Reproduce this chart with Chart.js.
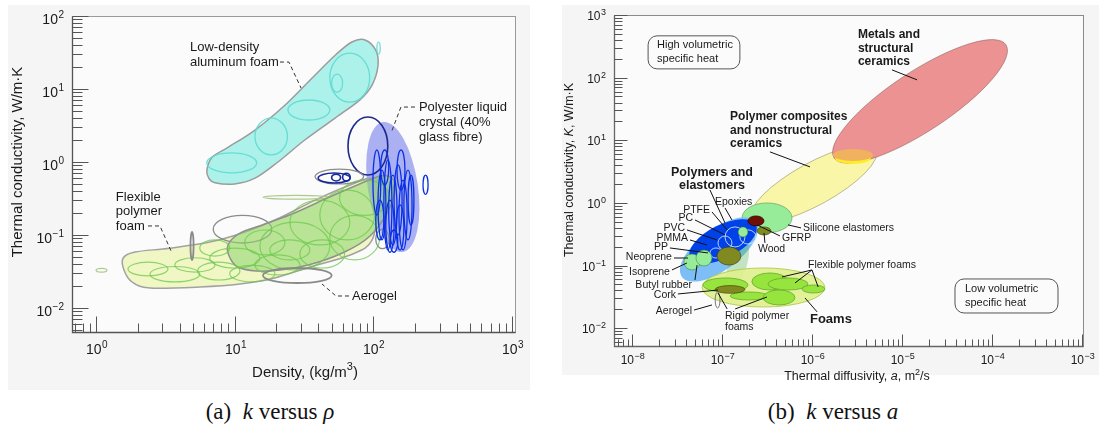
<!DOCTYPE html>
<html>
<head>
<meta charset="utf-8">
<script src="https://cdn.jsdelivr.net/npm/chart.js@4/dist/chart.umd.min.js"></script>
<style>
  body { margin:0; width:1099px; height:434px; background:#fff; position:relative; overflow:hidden; }
  .panel { position:absolute; background:#f5f5f5; }
  canvas { position:absolute; }
  .cap { position:absolute; font-family:"Liberation Serif", serif; font-size:23px; line-height:26px; color:#111; white-space:nowrap; transform:translateX(-50%); }
</style>
</head>
<body>
<div class="panel" style="left:8px;top:5px;width:522px;height:385px"></div>
<div class="panel" style="left:562px;top:5px;width:537px;height:370px"></div>
<canvas id="rhoChart" width="522" height="385" style="left:8px;top:5px"></canvas>
<canvas id="diffChart" width="537" height="390" style="left:562px;top:5px"></canvas>
<div class="cap" style="left:270px;top:399px">(a)&nbsp; <i>k</i> versus <i>ρ</i></div>
<div class="cap" style="left:833px;top:399px">(b)&nbsp; <i>k</i> versus <i>a</i></div>

<script>
// ---------- (a) thermal conductivity vs density ----------
const densityRange = [0.671, 1050];          // kg/m3
const conductivityRangeA = [0.00469, 100];   // W/m.K

// envelope outlines: [density, conductivity]
const alFoamBand = [[6.3,0.78],[6.9,1.17],[9.0,1.6],[14,2.74],[23,6.0],[35,13.3],[53,29],[70,44],[87,47],
  [104,34],[108,21],[98,11.4],[80,7.1],[53,4.0],[32,2.0],[20.5,1.0],[14,0.6],[10,0.5],[7.2,0.52],[6.5,0.6]];
const flexFoamBand = [[1.57,0.0484],[1.91,0.0585],[3.4,0.066],[6.6,0.080],[11.9,0.110],[21,0.171],[38,0.301],
  [68,0.484],[103,0.60],[108,0.301],[98,0.0855],[68,0.0532],[35,0.0365],[19.5,0.0258],[10.9,0.0213],
  [5.6,0.0194],[2.45,0.0188],[1.82,0.0227],[1.59,0.0332]];
const rigidFoamBand = [[8.95,0.073],[10.9,0.106],[16.5,0.1415],[27,0.20],[44.8,0.311],[73.6,0.469],[112,0.643],
  [136,0.604],[143,0.413],[127,0.207],[94.6,0.0968],[62,0.0585],[33.8,0.0388],[17.4,0.0321],[10.9,0.0353],[9.25,0.0484]];

// individual grades: density range x conductivity range
const alFoamGrades = [
  {x:[6.3,14.4], y:[0.71,1.33]}, {x:[14,24], y:[1.25,4.0]}, {x:[24.2,48.5], y:[3.76,7.07]},
  {x:[48.5,94], y:[6.6,31]}, {x:[50,60], y:[9,16]}, {x:[106,112], y:[30,44]}
];
const polymerFoamGrades = [
  {x:[1.7,3.3], y:[0.0275,0.0424]}, {x:[2.45,5.6], y:[0.0228,0.037]}, {x:[3.7,7.2], y:[0.031,0.0488]},
  {x:[5.4,10.9], y:[0.0242,0.0424]}, {x:[6.6,15.2], y:[0.0353,0.066]}, {x:[9.2,19.5], y:[0.0228,0.0383]},
  {x:[14,29.5], y:[0.0284,0.0533]}, {x:[5.6,9.2], y:[0.0515,0.0855]}, {x:[15.2,48.5], y:[0.0332,0.15]},
  {x:[25,67.6], y:[0.073,0.301]}, {x:[41.1,102], y:[0.0855,0.413]}, {x:[48.5,111], y:[0.0455,0.186]},
  {x:[29.5,62], y:[0.0353,0.0855]}, {x:[57,131], y:[0.186,0.566]}, {x:[17.9,34.8], y:[0.0455,0.0855]},
  {x:[11.8,23], y:[0.0533,0.117]}
];
const lcpEnvelope = {a:[117,3.53], b:[163,0.0585], r:0.38};
const lcpGrade = {x:[65.6,127], y:[0.665,4.14]};
const lcpScatter = [
  {x:[99.3,113], y:[0.188,1.46]}, {x:[108,123], y:[0.0855,0.776]}, {x:[119,136], y:[0.0624,1.07]},
  {x:[129,148], y:[0.073,0.66]}, {x:[141,161], y:[0.1,0.91]}, {x:[153,175], y:[0.0624,0.566]},
  {x:[166,190], y:[0.0855,0.776]}, {x:[123,141], y:[0.058,0.301]}, {x:[146,166], y:[0.0624,0.258]},
  {x:[104,119], y:[0.0855,0.301]}, {x:[113,129], y:[0.484,1.46]}, {x:[148,169], y:[0.413,1.46]},
  {x:[178,196], y:[0.137,0.66]}, {x:[132,150], y:[0.058,0.117]}, {x:[228,248], y:[0.36,0.66]}
];
const lcpLoops = [{x:[40,68], y:[0.515,0.706]}, {x:[50,58], y:[0.55,0.68]}, {x:[60,68], y:[0.55,0.7]}];
const otherGrades = [
  {x:[7,18.5], y:[0.0777,0.186]}, {x:[38,85], y:[0.5,0.8]}, {x:[104,130], y:[0.065,0.12]}
];
const paleGrades = [{x:[16,48], y:[0.31,0.35]}, {x:[1.0,1.2], y:[0.031,0.035]}];
const aerogelA = [{x:[16,50], y:[0.022,0.0353]}, {x:[4.8,5.05], y:[0.0455,0.11]}];

const notesA = [
  {lines:['Low-density','aluminum foam'], at:[4.76,37.6], align:'left', cls:'a1'},
  {lines:['Polyester liquid','crystal (40%','glass fibre)'], at:[213,5.66], align:'left', cls:'a2'},
  {lines:['Flexible','polymer','foam'], at:[1.39,0.332], align:'left', cls:'a3'},
  {lines:['Aerogel'], at:[70.1,0.0146], align:'left', cls:'a1'}
];
const leadersA = [
  [[21.2,23.4],[24.6,23.4],[30.1,10.3]],
  [[199.5,5.66],[158,5.66],[134,2.49]],
  [[2.37,0.133],[2.89,0.133],[3.53,0.0566]],
  [[66.7,0.0146],[53.8,0.0146],[42.6,0.0213]]
];

// ---------- (b) thermal conductivity vs thermal diffusivity ----------
const diffusivityRange = [6.31e-9, 1.026e-3];  // m2/s
const conductivityRangeB = [0.0052, 1000];     // W/m.K

const composites = {a:[2.16e-7,0.576], b:[5.14e-6,7.03], r:0.3};
const metals = {a:[1.76e-6,5.23], b:[1.43e-4,334], r:0.29};
const overlapGlow = {x:[1.8e-6,4.5e-6], y:[4.2,6.53]};
const overlap = {x:[1.71e-6,4.76e-6], y:[4.69,7.29]};
const silicone = {x:[1.67e-7,6.0e-7], y:[0.334,1.0]};
const polymerHalo = {a:[3.59e-8,0.0658], b:[2.39e-7,0.497], r:0.45};
const bridge = {a:[1.23e-7,0.0407], b:[1.8e-7,0.256], r:0.35};
const polymerCore = {a:[4.41e-8,0.132], b:[2.39e-7,0.446], r:0.45};
const polymerGrades = [
  {x:[1.08e-7,1.8e-7], y:[0.198,0.414]}, {x:[9.03e-8,1.29e-7], y:[0.177,0.297]},
  {x:[1.58e-7,2.39e-7], y:[0.221,0.371]}, {x:[7.35e-8,1.0e-7], y:[0.132,0.191]}
];
const elastomers = [
  {x:[1.51e-7,1.94e-7], y:[0.286,0.414]}, {x:[3.78e-8,5.7e-8], y:[0.0851,0.153]},
  {x:[5.14e-8,7.74e-8], y:[0.0986,0.177]}
];
const naturals = [{x:[8.8e-8,1.62e-7], y:[0.102,0.198]}, {x:[2.45e-7,3.5e-7], y:[0.308,0.414]}];
const gfrp = {x:[1.94e-7,2.93e-7], y:[0.43,0.62]};
const foamEnvelope = {x:[6.0e-8,1.39e-6], y:[0.0218,0.0916]};
const foamGrades = [
  {x:[6.15e-8,1.94e-7], y:[0.0379,0.0634]}, {x:[2.15e-7,5.41e-7], y:[0.0407,0.0762]},
  {x:[3.24e-7,9.03e-7], y:[0.0407,0.0634]}, {x:[1.23e-7,3.24e-7], y:[0.0282,0.0379]},
  {x:[2.86e-7,6.47e-7], y:[0.0235,0.0407]}, {x:[7.74e-7,1.39e-6], y:[0.0365,0.049]}
];
const cork = {x:[8.4e-8,1.8e-7], y:[0.036,0.048]};
const aerogelB = {x:[8.4e-8,9.5e-8], y:[0.021,0.0379]};

const notesB = [
  {lines:['Metals and','structural','ceramics'], at:[3.24e-6,483], align:'left', cls:'head'},
  {lines:['Polymer composites','and nonstructural','ceramics'], at:[1.23e-7,23.6], align:'left', cls:'head'},
  {lines:['Polymers and','elastomers'], at:[7.74e-8,3.01], align:'center', cls:'head2'},
  {lines:['Epoxies'], at:[8.36e-8,1.04], align:'left', cls:'b'},
  {lines:['PTFE'], at:[7.35e-8,0.773], align:'right', cls:'b'},
  {lines:['PC'], at:[4.76e-8,0.576], align:'right', cls:'b'},
  {lines:['PVC'], at:[3.88e-8,0.399], align:'right', cls:'b'},
  {lines:['PMMA'], at:[4.19e-8,0.276], align:'right', cls:'b'},
  {lines:['PP'], at:[2.51e-8,0.198], align:'right', cls:'b'},
  {lines:['Neoprene'], at:[2.78e-8,0.137], align:'right', cls:'b'},
  {lines:['Isoprene'], at:[2.64e-8,0.0791], align:'right', cls:'b'},
  {lines:['Butyl rubber'], at:[4.64e-8,0.049], align:'right', cls:'b'},
  {lines:['Cork'], at:[3.08e-8,0.0339], align:'right', cls:'b'},
  {lines:['Aerogel'], at:[4.64e-8,0.0188], align:'right', cls:'b'},
  {lines:['Rigid polymer','foams'], at:[1.08e-7,0.0157], align:'left', cls:'b'},
  {lines:['Wood'], at:[2.51e-7,0.184], align:'left', cls:'b'},
  {lines:['GFRP'], at:[4.64e-7,0.276], align:'left', cls:'b'},
  {lines:['Silicone elastomers'], at:[7.94e-7,0.399], align:'left', cls:'b'},
  {lines:['Flexible polymer foams'], at:[9.03e-7,0.102], align:'left', cls:'b'},
  {lines:['Foams'], at:[9.5e-7,0.0140], align:'left', cls:'foams'},
  {lines:['High volumetric','specific heat'], at:[1.90e-8,334], align:'left', cls:'box'},
  {lines:['Low volumetric','specific heat'], at:[5.01e-5,0.0423], align:'left', cls:'box'}
];
const leadersB = [
  [[7.74e-6,133],[1.47e-5,92.2]], [[3.41e-7,6.53],[9.5e-7,3.76]], [[7.35e-8,1.61],[1.08e-7,0.479]],
  [[1.08e-7,0.832],[1.29e-7,0.535]], [[7.74e-8,0.718],[1.14e-7,0.371]], [[5.01e-8,0.535],[1.08e-7,0.308]],
  [[4.08e-8,0.371],[8.8e-8,0.256]], [[4.41e-8,0.256],[6.81e-8,0.213]], [[2.64e-8,0.191],[6.98e-8,0.159]],
  [[2.93e-8,0.132],[4.19e-8,0.132]], [[2.78e-8,0.0851],[4.08e-8,0.110]], [[5.01e-8,0.0589],[5.28e-8,0.102]],
  [[3.24e-8,0.0352],[9.03e-8,0.0407]], [[4.89e-8,0.0195],[7.74e-8,0.0235]], [[1.14e-7,0.0203],[9.03e-8,0.0365]],
  [[1.40e-7,0.0203],[3.16e-7,0.0315]], [[3.0e-7,0.230],[2.93e-7,0.332]], [[4.41e-7,0.297],[2.45e-7,0.446]],
  [[7.55e-7,0.399],[5.41e-7,0.446]], [[1.0e-6,0.0851],[4.64e-7,0.0658]], [[1.0e-6,0.0851],[6.47e-7,0.0527]],
  [[1.0e-6,0.0851],[1.17e-6,0.0455]], [[1.14e-6,0.0182],[8.36e-7,0.0304]]
];
const boxesB = [{from:[1.51e-8,465], to:[1.58e-7,138]}, {from:[3.88e-5,0.0611], to:[5.41e-4,0.0175]}];

// ---------- drawing helpers ----------
const SANS = '"Liberation Sans", Arial, sans-serif';
const fontOf = (size, bold, italic) => (italic ? 'italic ' : '') + (bold ? 'bold ' : '') + size + 'px ' + SANS;
const toPx = (chart, p) => [chart.scales.x.getPixelForValue(p[0]), chart.scales.y.getPixelForValue(p[1])];

function ellipsePath(ctx, chart, e) {
  ctx.beginPath();
  if (e.x) {
    const [x0, y0] = toPx(chart, [e.x[0], e.y[0]]);
    const [x1, y1] = toPx(chart, [e.x[1], e.y[1]]);
    ctx.ellipse((x0 + x1) / 2, (y0 + y1) / 2, Math.max(Math.abs(x1 - x0) / 2, 0.5), Math.max(Math.abs(y1 - y0) / 2, 0.5), 0, 0, Math.PI * 2);
  } else {
    const [ax, ay] = toPx(chart, e.a), [bx, by] = toPx(chart, e.b);
    const half = Math.hypot(bx - ax, by - ay) / 2;
    ctx.ellipse((ax + bx) / 2, (ay + by) / 2, half, half * e.r, Math.atan2(by - ay, bx - ax), 0, Math.PI * 2);
  }
}

// smooth closed outline through the envelope vertices
function blobPath(ctx, chart, pts) {
  const P = pts.map(p => toPx(chart, p)), n = P.length, t = 1 / 6;
  ctx.beginPath();
  ctx.moveTo(P[0][0], P[0][1]);
  for (let i = 0; i < n; i++) {
    const p0 = P[(i - 1 + n) % n], p1 = P[i], p2 = P[(i + 1) % n], p3 = P[(i + 2) % n];
    ctx.bezierCurveTo(p1[0] + (p2[0] - p0[0]) * t, p1[1] + (p2[1] - p0[1]) * t,
                      p2[0] - (p3[0] - p1[0]) * t, p2[1] - (p3[1] - p1[1]) * t, p2[0], p2[1]);
  }
  ctx.closePath();
}

function drawLayers(chart, layers) {
  const ctx = chart.ctx, a = chart.chartArea;
  ctx.save();
  ctx.beginPath(); ctx.rect(a.left, a.top, a.right - a.left, a.bottom - a.top); ctx.clip();
  for (const L of layers) {
    for (const s of L.shapes) {
      if (Array.isArray(s)) blobPath(ctx, chart, s); else ellipsePath(ctx, chart, s);
      if (L.style.fill) { ctx.fillStyle = L.style.fill; ctx.fill(); }
      if (L.style.stroke) { ctx.strokeStyle = L.style.stroke; ctx.lineWidth = L.style.lw || 1; ctx.stroke(); }
    }
  }
  ctx.restore();
}

function decadeTicks(min, max) {
  const out = [];
  for (let e = Math.floor(Math.log10(min)); e <= Math.ceil(Math.log10(max)); e++) {
    for (let k = 1; k <= 9; k++) {
      const v = k * Math.pow(10, e);
      if (v >= min * 0.999 && v <= max * 1.001) out.push({v, e, major: k === 1});
    }
  }
  return out;
}

function powerLabel(ctx, e, x, y, align, fs, sfs, rise) {
  const sup = e < 0 ? '\u2212' + (-e) : String(e);
  ctx.font = fontOf(fs); const wb = ctx.measureText('10').width;
  ctx.font = fontOf(sfs); const ws = ctx.measureText(sup).width;
  const x0 = align === 'center' ? x - (wb + ws) / 2 : x - (wb + ws);
  ctx.textAlign = 'left'; ctx.textBaseline = 'alphabetic';
  ctx.font = fontOf(fs); ctx.fillText('10', x0, y);
  ctx.font = fontOf(sfs); ctx.fillText(sup, x0 + wb + 0.5, y - rise);
}

function drawFrame(chart, f) {
  const ctx = chart.ctx, a = chart.chartArea, X = chart.scales.x, Y = chart.scales.y;
  const L = Math.round(a.left) + 0.5, R = Math.round(a.right) + 0.5, T = Math.round(a.top) + 0.5, B = Math.round(a.bottom) + 0.5;
  ctx.save();
  ctx.lineWidth = 1;
  ctx.strokeStyle = f.box;
  ctx.strokeRect(L, T, R - L, B - T);
  ctx.strokeStyle = f.axis; ctx.lineWidth = 1.3;
  ctx.beginPath(); ctx.moveTo(L, T); ctx.lineTo(L, B); ctx.lineTo(R, B); ctx.stroke();
  ctx.lineWidth = 1; ctx.strokeStyle = f.tick; ctx.fillStyle = f.text;
  for (const t of decadeTicks(X.min, X.max)) {
    const x = Math.round(X.getPixelForValue(t.v)) + 0.5;
    ctx.beginPath(); ctx.moveTo(x, B); ctx.lineTo(x, B - (t.major ? f.xMajor : f.xMinor)); ctx.stroke();
    if (t.major) powerLabel(ctx, t.e, x, B + f.xDy, 'center', f.fs, f.sfs, f.rise);
  }
  for (const t of decadeTicks(Y.min, Y.max)) {
    const y = Math.round(Y.getPixelForValue(t.v)) + 0.5;
    ctx.beginPath(); ctx.moveTo(L, y); ctx.lineTo(L + (t.major ? f.yMajor : f.yMinor), y); ctx.stroke();
    if (t.major) powerLabel(ctx, t.e, L - f.yDx, y + f.yDy, 'right', f.fs, f.sfs, f.rise);
  }
  ctx.restore();
}

function richText(ctx, segs, cx, cy, size, rotate) {
  ctx.save();
  ctx.translate(cx, cy);
  if (rotate) ctx.rotate(-Math.PI / 2);
  const f = s => fontOf(s.sup ? Math.round(size * 0.7) : size, false, s.i);
  let w = 0;
  for (const s of segs) { ctx.font = f(s); w += ctx.measureText(s.t).width; }
  let x = -w / 2;
  ctx.textAlign = 'left'; ctx.textBaseline = 'middle'; ctx.fillStyle = '#1a1a1a';
  for (const s of segs) {
    ctx.font = f(s);
    ctx.fillText(s.t, x, s.sup ? -size * 0.38 : 0);
    x += ctx.measureText(s.t).width;
  }
  ctx.restore();
}

function drawNotes(chart, notes, classes) {
  const ctx = chart.ctx;
  ctx.save();
  ctx.fillStyle = '#1a1a1a';
  ctx.textBaseline = 'middle';
  for (const n of notes) {
    const c = classes[n.cls];
    const [x, y] = toPx(chart, n.at);
    ctx.font = fontOf(c.size, c.bold);
    ctx.textAlign = n.align;
    n.lines.forEach((t, i) => ctx.fillText(t, x, y + i * c.lead));
  }
  ctx.restore();
}

function drawLeaders(chart, leaders, color, dash, lw) {
  const ctx = chart.ctx;
  ctx.save();
  ctx.strokeStyle = color; ctx.lineWidth = lw; ctx.setLineDash(dash);
  for (const l of leaders) {
    ctx.beginPath();
    l.forEach((p, i) => { const [x, y] = toPx(chart, p); i ? ctx.lineTo(x, y) : ctx.moveTo(x, y); });
    ctx.stroke();
  }
  ctx.restore();
}

function drawBoxes(chart, boxes) {
  const ctx = chart.ctx;
  ctx.save();
  ctx.strokeStyle = '#555'; ctx.lineWidth = 1;
  for (const b of boxes) {
    const [x0, y0] = toPx(chart, b.from), [x1, y1] = toPx(chart, b.to);
    ctx.beginPath(); ctx.roundRect(x0, y0, x1 - x0, y1 - y0, 9); ctx.stroke();
  }
  ctx.restore();
}

function fillArea(chart, color) {
  const a = chart.chartArea;
  chart.ctx.save(); chart.ctx.fillStyle = color;
  chart.ctx.fillRect(a.left, a.top, a.right - a.left, a.bottom - a.top);
  chart.ctx.restore();
}

function logChart(id, xr, yr, yWidth, xHeight, pad, draw) {
  return new Chart(document.getElementById(id), {
    type: 'scatter',
    data: { datasets: [] },
    options: {
      responsive: false, animation: false, devicePixelRatio: 1, events: [],
      layout: { padding: pad },
      plugins: { legend: { display: false }, tooltip: { enabled: false } },
      scales: {
        x: { type: 'logarithmic', min: xr[0], max: xr[1], grid: { display: false }, border: { display: false },
             ticks: { display: false }, afterFit: s => { s.height = xHeight; } },
        y: { type: 'logarithmic', min: yr[0], max: yr[1], grid: { display: false }, border: { display: false },
             ticks: { display: false }, afterFit: s => { s.width = yWidth; } }
      }
    },
    plugins: [{ id: 'ashbyMap', afterDraw: draw }]
  });
}

// ---------- chart (a) ----------
logChart('rhoChart', densityRange, conductivityRangeA, 64, 58, {left: 0, top: 11, right: 15, bottom: 0}, chart => {
  fillArea(chart, '#fbfbfb');
  drawLayers(chart, [
    {shapes: [alFoamBand], style: {fill: 'rgba(165,241,233,0.92)', stroke: '#9c9c9c', lw: 1.5}},
    {shapes: alFoamGrades, style: {stroke: 'rgba(95,218,208,0.9)', lw: 1.3}},
    {shapes: [flexFoamBand], style: {fill: 'rgb(240,246,196)', stroke: '#a2a2a2', lw: 1.5}},
    {shapes: [lcpEnvelope], style: {fill: 'rgba(150,158,240,0.8)'}},
    {shapes: [lcpGrade], style: {stroke: '#1c2a8c', lw: 1.6}},
    {shapes: otherGrades, style: {stroke: '#8c8c8c', lw: 1.3}},
    {shapes: paleGrades, style: {stroke: 'rgba(165,195,130,0.9)', lw: 1.2}},
    {shapes: [rigidFoamBand], style: {fill: 'rgba(142,214,112,0.55)', stroke: '#909090', lw: 1.5}},
    {shapes: polymerFoamGrades, style: {stroke: 'rgba(108,200,78,0.75)', lw: 1.2}},
    {shapes: lcpScatter, style: {stroke: '#0a30e6', lw: 1.3}},
    {shapes: lcpLoops, style: {stroke: '#16289a', lw: 1.6}},
    {shapes: aerogelA, style: {stroke: '#8a8a8a', lw: 1.8}}
  ]);
  drawFrame(chart, {box: '#9a9a9a', axis: '#555', tick: '#555', text: '#1a1a1a',
    xMajor: 16, xMinor: 9, yMajor: 16, yMinor: 10, xDy: 21, yDx: 9, yDy: 7, fs: 14, sfs: 10, rise: 6});
  drawLeaders(chart, leadersA, '#333', [4, 3], 1);
  drawNotes(chart, notesA, {
    a1: {size: 13, lead: 15.5}, a2: {size: 13, lead: 15}, a3: {size: 13, lead: 14.5}
  });
  const a = chart.chartArea;
  richText(chart.ctx, [{t: 'Thermal conductivity, W/m\u00b7K'}], a.left - 54, a.top + 146, 15, true);
  richText(chart.ctx, [{t: 'Density, (kg/m'}, {t: '3', sup: true}, {t: ')'}], a.left + 233, a.bottom + 41, 15, false);
});

// ---------- chart (b) ----------
logChart('diffChart', diffusivityRange, conductivityRangeB, 52, 49, {left: 0, top: 10, right: 16, bottom: 0}, chart => {
  fillArea(chart, '#fbfbfb');
  drawLayers(chart, [
    {shapes: [composites], style: {fill: 'rgb(250,246,168)', stroke: 'rgba(160,160,110,0.7)', lw: 1}},
    {shapes: [metals], style: {fill: 'rgb(236,146,146)', stroke: 'rgba(110,70,70,0.55)', lw: 0.8}},
    {shapes: [overlapGlow], style: {fill: 'rgb(255,236,40)'}},
    {shapes: [overlap], style: {fill: 'rgb(241,178,96)'}},
    {shapes: [silicone], style: {fill: 'rgb(150,236,152)', stroke: 'rgba(90,150,90,0.6)', lw: 1}},
    {shapes: [polymerHalo], style: {fill: 'rgb(124,190,245)'}},
    {shapes: [bridge], style: {fill: 'rgba(90,185,95,0.35)'}},
    {shapes: [polymerCore], style: {fill: 'rgb(0,66,232)'}},
    {shapes: polymerGrades, style: {stroke: 'rgba(215,228,255,0.85)', lw: 1}},
    {shapes: elastomers, style: {fill: 'rgb(150,236,152)', stroke: 'rgba(60,120,60,0.5)', lw: 1}},
    {shapes: naturals, style: {fill: 'rgb(128,138,32)', stroke: 'rgba(60,60,10,0.6)', lw: 1}},
    {shapes: [gfrp], style: {fill: 'rgb(110,16,6)', stroke: 'rgba(40,0,0,0.7)', lw: 1}},
    {shapes: [foamEnvelope], style: {fill: 'rgba(224,240,142,0.92)', stroke: 'rgba(175,205,75,0.9)', lw: 1}},
    {shapes: foamGrades, style: {fill: 'rgb(152,228,62)', stroke: 'rgba(100,170,40,0.8)', lw: 1}},
    {shapes: [cork], style: {fill: 'rgb(128,138,32)', stroke: 'rgba(60,60,10,0.6)', lw: 1}},
    {shapes: [aerogelB], style: {stroke: '#777', lw: 1}}
  ]);
  drawFrame(chart, {box: '#8a8a8a', axis: '#666', tick: '#555', text: '#1a1a1a',
    xMajor: 12, xMinor: 7, yMajor: 13, yMinor: 8, xDy: 17, yDx: 9, yDy: 4, fs: 12, sfs: 9, rise: 5});
  drawLeaders(chart, leadersB, '#111', [], 1);
  drawBoxes(chart, boxesB);
  drawNotes(chart, notesB, {
    head: {size: 12, bold: true, lead: 13.5}, head2: {size: 12.5, bold: true, lead: 12.5},
    b: {size: 10.5, lead: 11}, foams: {size: 13, bold: true, lead: 13}, box: {size: 11, lead: 14}
  });
  const a = chart.chartArea;
  richText(chart.ctx, [{t: 'Thermal conductivity, '}, {t: 'K', i: true}, {t: ', W/m\u00b7K'}], a.left - 44, a.top + 155, 12.5, true);
  richText(chart.ctx, [{t: 'Thermal diffusivity, '}, {t: 'a', i: true}, {t: ', m'}, {t: '2', sup: true}, {t: '/s'}], a.left + 243, a.bottom + 31, 12.5, false);
});
</script>
</body>
</html>
